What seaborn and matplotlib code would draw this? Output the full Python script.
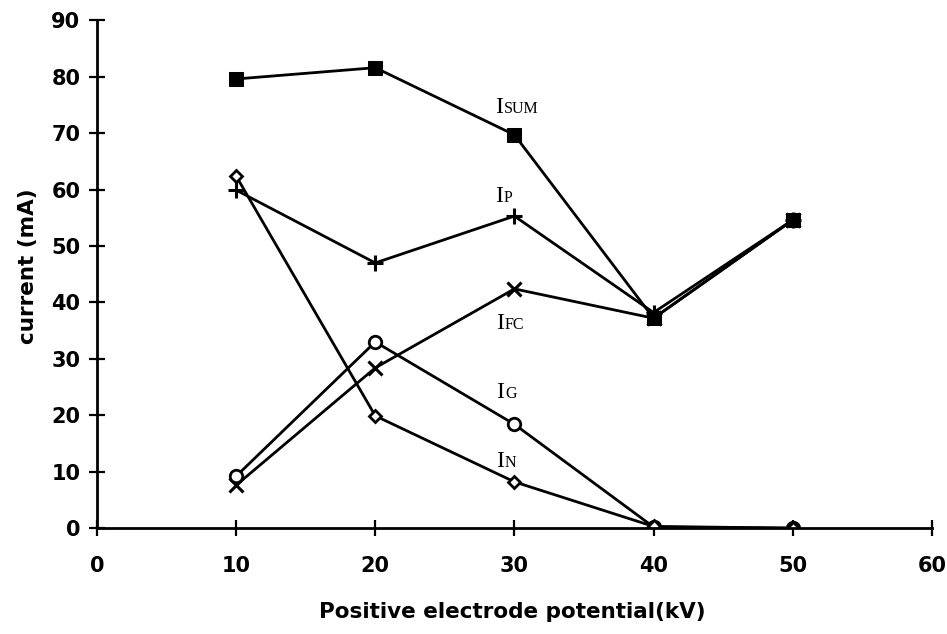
import matplotlib
matplotlib.use("Agg")
import matplotlib.pyplot as plt
import seaborn as sns
import numpy as np

potential_kv = [10, 20, 30, 40, 50]
i_sum = [79.6, 81.6, 69.7, 37.2, 54.6]
i_p = [59.9, 47.0, 55.3, 38.2, 54.6]
i_fc = [7.6, 28.4, 42.4, 37.2, 54.6]
i_g = [9.2, 33.0, 18.4, 0.2, 0.0]
i_n = [62.4, 19.9, 8.2, 0.3, 0.0]

x_ticks = [0, 10, 20, 30, 40, 50, 60]
y_ticks = [0, 10, 20, 30, 40, 50, 60, 70, 80, 90]

labels = [("SUM", 28.6, 73.5), ("P", 28.6, 57.8), ("FC", 28.7, 35.3),
          ("G", 28.7, 23.0), ("N", 28.7, 10.8)]

sns.set_style("ticks")
plt.rcParams['font.family'] = ['DejaVu Sans']
plt.rcParams['text.color'] = 'black'
plt.rcParams['axes.labelcolor'] = 'black'

fig = plt.figure(figsize=(9.47, 6.34), dpi=100)
ax = fig.add_axes([0.1024, 0.167, 0.8816, 0.801])

lw = 2.0
sns.lineplot(x=potential_kv, y=i_sum, ax=ax, color='black', linewidth=lw,
             marker='s', markersize=10, markerfacecolor='black', markeredgecolor='black')
sns.lineplot(x=potential_kv, y=i_p, ax=ax, color='black', linewidth=lw,
             marker='+', markersize=12, markeredgewidth=2.2, markeredgecolor='black')
sns.lineplot(x=potential_kv, y=i_fc, ax=ax, color='black', linewidth=lw,
             marker='x', markersize=10, markeredgewidth=2.2, markeredgecolor='black')
sns.lineplot(x=potential_kv, y=i_g, ax=ax, color='black', linewidth=lw,
             marker='o', markersize=9, markerfacecolor='white', markeredgecolor='black',
             markeredgewidth=2.0)
sns.lineplot(x=potential_kv, y=i_n, ax=ax, color='black', linewidth=lw,
             marker='D', markersize=6.5, markerfacecolor='white', markeredgecolor='black',
             markeredgewidth=2.0)

serif = ['Liberation Serif', 'DejaVu Serif']
for sub, lx, ly in labels:
    ax.text(lx, ly, "I", fontsize=17, family=serif, va='baseline', ha='left',
            color='black')
    ax.annotate(sub, xy=(lx, ly), xytext=(6.3, 0), textcoords='offset points',
                fontsize=11.5, family=serif, va='baseline', ha='left', color='black')

ax.set_xlim(0, 60)
ax.set_ylim(0, 90)
ax.set_xticks(x_ticks)
ax.set_yticks(y_ticks)
ax.tick_params(direction='inout', length=12, width=1.6, labelsize=15, colors='black', pad=6)
ax.tick_params(axis='x', pad=14)
for s in ['top', 'right']:
    ax.spines[s].set_visible(False)
for s in ['left', 'bottom']:
    ax.spines[s].set_color('black')
    ax.spines[s].set_linewidth(2.0)
for lab in ax.get_xticklabels() + ax.get_yticklabels():
    lab.set_fontweight('bold')
ax.set_xlabel("Positive electrode potential(kV)", fontsize=15.5, fontweight='bold', color='black')
ax.set_ylabel("current (mA)", fontsize=15.5, fontweight='bold', color='black')
ax.xaxis.set_label_coords(0.497, -0.145)
ax.yaxis.set_label_coords(-0.0707, 0.516)

fig.savefig("out.png", dpi=100)
